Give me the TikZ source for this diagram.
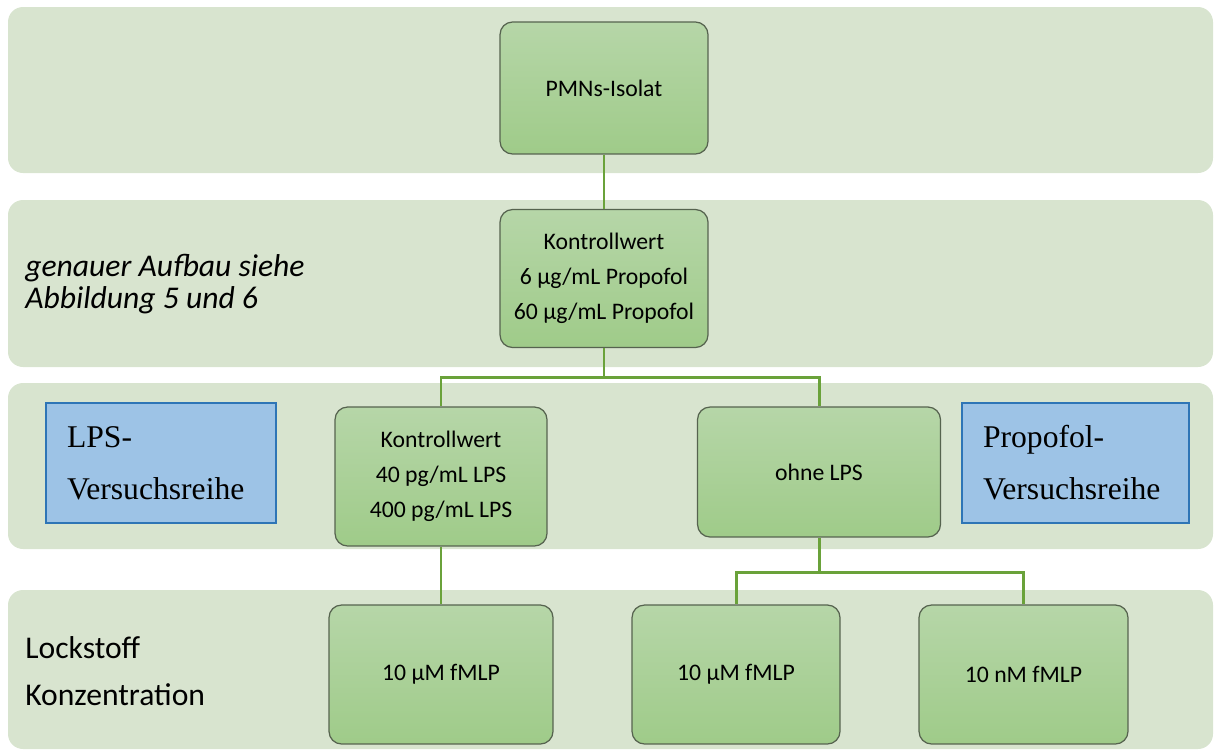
\documentclass[tikz,border=0pt]{standalone}
\usepackage{fontspec}
\setmainfont{Carlito}
\newfontfamily\timesfont{Liberation Serif}
\definecolor{bandgreen}{HTML}{D8E4CF}
\definecolor{boxtop}{HTML}{B6D6A8}
\definecolor{boxbottom}{HTML}{9FCB89}
\definecolor{boxedge}{HTML}{56634F}
\definecolor{linkgreen}{HTML}{6AA23A}
\definecolor{seriesblue}{HTML}{9DC3E6}
\definecolor{seriesedge}{HTML}{2E75B6}

\begin{document}
\begin{tikzpicture}[x=0.02cm, y=-0.02cm,
	band/.style={fill=bandgreen, rounded corners=0.3cm},
	box/.style={draw=boxedge, line width=0.7pt, rounded corners=0.25cm, top color=boxtop, bottom color=boxbottom, align=center, inner sep=0pt, font=\fontsize{13.5}{20}\selectfont},
	series/.style={draw=seriesedge, line width=1.2pt, fill=seriesblue, align=left, inner xsep=0.42cm, minimum height=2.4cm, font=\timesfont\fontsize{18}{29.6}\selectfont},
	conn/.style={draw=linkgreen, line width=1.7pt},
	lbl/.style={anchor=west, align=left, inner sep=0pt}]
	\useasboundingbox (0,0) rectangle (1214,751);

	\foreach \ya/\yb in {7/173, 200/367, 383/549, 590/749} \fill[band] (8,\ya) rectangle (1213,\yb);

	\node[lbl, font=\itshape\fontsize{18}{18.2}\selectfont] (aufbau) at (25,284) {genauer Aufbau siehe\\Abbildung 5 und 6};
	\node[lbl, font=\fontsize{18}{26.7}\selectfont] (lockstoff) at (25,671.5) {Lockstoff\\Konzentration};

	\node[series, text width=3.76cm] (lpsreihe) at (161,463) {LPS-\\Versuchsreihe};
	\node[series, text width=3.70cm] (propreihe) at (1075.5,463) {Propofol-\\Versuchsreihe};

	\node[box, minimum width=4.16cm, minimum height=2.64cm] (pmn) at (604,88) {PMNs-Isolat};
	\node[box, minimum width=4.16cm, minimum height=2.76cm] (kw) at (604,278.5) {Kontrollwert\\6 µg/mL Propofol\\60 µg/mL Propofol};
	\node[box, minimum width=4.24cm, minimum height=2.78cm] (lps) at (441,476.5) {Kontrollwert\\40 pg/mL LPS\\400 pg/mL LPS};
	\node[box, minimum width=4.86cm, minimum height=2.6cm] (ohne) at (819,472) {ohne LPS};
	\node[box, minimum width=4.48cm, minimum height=2.78cm] (fa) at (441,674.5) {10 µM fMLP};
	\node[box, minimum width=4.16cm, minimum height=2.78cm] (fb) at (736,674.5) {10 µM fMLP};
	\node[box, minimum width=4.18cm, minimum height=2.78cm] (fc) at (1023.5,674.5) {10 nM fMLP};

	\coordinate (split1) at (604,377);
	\coordinate (split2) at (819,572);
	\draw[conn] (pmn) -- (kw);
	\draw[conn] (kw) -- (split1) -| (lps);
	\draw[conn] (split1) -| (ohne);
	\draw[conn] (lps) -- (fa);
	\draw[conn] (ohne) -- (split2) -| (fb);
	\draw[conn] (split2) -| (fc);
\end{tikzpicture}
\end{document}
